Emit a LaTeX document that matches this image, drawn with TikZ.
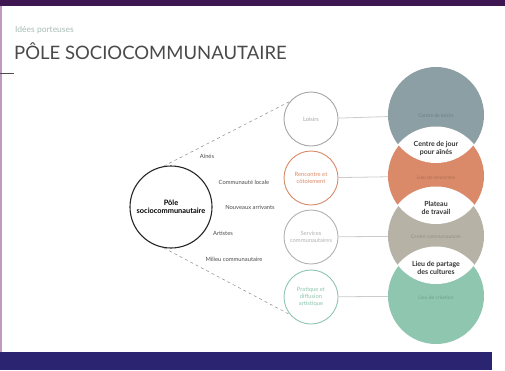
\documentclass[tikz,border=0pt]{standalone}
\usepackage{fontspec}
\setmainfont{Lato}
\definecolor{cgray}{HTML}{8C9FA4}
\definecolor{corange}{HTML}{DA8A69}
\definecolor{cbeige}{HTML}{B6B3A6}
\definecolor{cgreen}{HTML}{8FC6AF}
\definecolor{topband}{HTML}{3E1652}
\definecolor{botband}{HTML}{2B2470}
\definecolor{titlecol}{HTML}{4A4A4A}
\definecolor{subcol}{HTML}{A9BDB5}
\begin{document}
\begin{tikzpicture}[x=1pt,y=-1pt,
  small/.style={circle,draw=#1,line width=0.9pt,minimum size=54pt,inner sep=0pt,align=center,text=#1,font=\fontsize{5.8}{6.8}\selectfont},
  big/.style={circle,fill=#1,minimum size=96pt,inner sep=0pt},
  bigtxt/.style={font=\fontsize{5}{6}\selectfont,text=#1!80!black},
  lenstxt/.style={font=\bfseries\fontsize{7}{8}\selectfont,align=center,text=black!80},
  lbl/.style={font=\fontsize{5.8}{6.5}\selectfont,text=black!70},
  link/.style={draw=black!20,line width=0.8pt},
  dashline/.style={draw=black!45,dashed,line width=0.5pt}]
\useasboundingbox (0,0) rectangle (505,370);
% background
\fill[white] (0,0) rectangle (505,370);
\fill[topband] (0,0) rectangle (505,6);
\fill[botband] (0,352) rectangle (492,370);
\fill[black!25!violet!40] (0,6) rectangle (2,352);
\draw[black!70,line width=1pt] (0,73) -- (14,73);
% title
\node[anchor=west,text=subcol,font=\fontsize{8.5}{9}\selectfont,inner sep=0pt] (sub) at (15,30) {Idées porteuses};
\node[anchor=west,text=titlecol,font=\fontsize{18.5}{20}\selectfont,inner sep=0pt] (title) at (14,51) {PÔLE SOCIOCOMMUNAUTAIRE};
% big circles
\node[big=cgray] (b1) at (436,115) {};
\node[big=corange] (b2) at (436,176) {};
\node[big=cbeige] (b3) at (436,236) {};
\node[big=cgreen] (b4) at (436,296) {};
\begin{scope}\clip (436,115) circle (48); \fill[white] (436,176) circle (49.5);\end{scope}
\begin{scope}\clip (436,176) circle (48); \fill[white] (436,236) circle (49.5);\end{scope}
\begin{scope}\clip (436,236) circle (48); \fill[white] (436,296) circle (49.5);\end{scope}
\node[bigtxt=cgray] (t1) at (436,116) {Centre de loisirs};
\node[bigtxt=corange] (t2) at (436,178) {Lieu de rencontre};
\node[bigtxt=cbeige] (t3) at (436,237) {Centre communautaire};
\node[bigtxt=cgreen] (t4) at (436,298) {Lieu de création};
\node[lenstxt] (l1) at (436,148) {Centre de jour\\pour aînés};
\node[lenstxt] (l2) at (436,208) {Plateau\\de travail};
\node[lenstxt] (l3) at (436,268) {Lieu de partage\\des cultures};
% small circles
\node[small=black!35] (s1) at (311,119) {Loisirs};
\node[small=corange] (s2) at (311,178) {Rencontre et\\côtoiement};
\node[small=black!30] (s3) at (311,237) {Services\\communautaires};
\node[small=cgreen] (s4) at (311,297) {Pratique et\\diffusion\\artistique};
\draw[link] (s1) -- (b1);
\draw[link] (s2) -- (b2);
\draw[link] (s3) -- (b3);
\draw[link] (s4) -- (b4);
% centre
\node[circle,draw=black!85,line width=1.1pt,minimum size=82pt,inner sep=0pt,align=center,font=\bfseries\fontsize{7.4}{8.5}\selectfont] (c) at (171,207) {Pôle\\sociocommunautaire};
\draw[dashline] (c.100) -- (s1.140);
\draw[dashline] (c.260) -- (s4.220);
\node[lbl] (a1) at (207,156) {Aînés};
\node[lbl] (a2) at (244,182) {Communauté locale};
\node[lbl] (a3) at (250,207) {Nouveaux arrivants};
\node[lbl] (a4) at (223,233) {Artistes};
\node[lbl] (a5) at (234,259) {Milieu communautaire};
\end{tikzpicture}
\end{document}
